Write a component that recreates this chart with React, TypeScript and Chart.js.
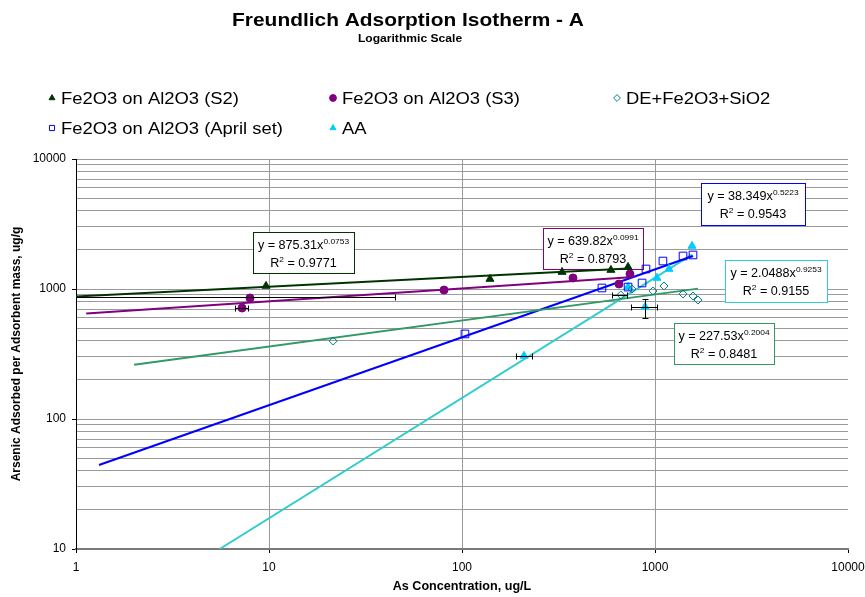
import React, { useEffect, useRef } from 'react';
import { Chart, registerables } from 'chart.js';

Chart.register(...registerables);

const FONT = 'Arial, "Liberation Sans", sans-serif';

// ---- text ----
const TITLE = 'Freundlich Adsorption Isotherm - A';
const SUBTITLE = 'Logarithmic Scale';
const X_TITLE = 'As Concentration, ug/L';
const Y_TITLE = 'Arsenic Adsorbed per Adsorbent mass, ug/g';
const SERIES_NAMES = [
  'Fe2O3 on Al2O3 (S2)',
  'Fe2O3 on Al2O3 (S3)',
  'DE+Fe2O3+SiO2',
  'Fe2O3 on Al2O3 (April set)',
  'AA',
];

// ---- axis ticks ----
const X_TICK_LABELS = [1, 10, 100, 1000, 10000];
const Y_TICK_LABELS = [10, 100, 1000, 10000];
const MINOR_STEPS = [1, 2, 3, 4, 5, 6, 7, 8, 9];

// ---- data ----
const S2_X = [9.65, 139.6, 330, 591, 725];
const S2_Y = [1055, 1194, 1351, 1400, 1476];

const S3_X = [7.25, 7.97, 80.7, 376, 651, 742];
const S3_Y = [714, 853, 982, 1216, 1092, 1304];

const DE_X = [21.5, 665, 760, 977, 1113, 1397, 1574, 1670];
const DE_Y = [398, 900, 1000, 966, 1055, 916, 884, 822];

const APRIL_X = [103.6, 531, 725, 857, 898, 1099, 1397, 1574];
const APRIL_Y = [451, 1018, 1035, 1112, 1425, 1641, 1794, 1827];

const AA_X = [209.5, 725, 888, 1024, 1182, 1555];
const AA_Y = [305.7, 1036, 728, 1216, 1425, 2143];

// ---- power-law trendlines (y = a * x^b), same order as SERIES_NAMES ----
const TREND_A = [875.31, 639.82, 227.53, 38.349, 2.0488];
const TREND_B = [0.0753, 0.0991, 0.2004, 0.5223, 0.9253];
const TREND_A_TEXT = ['875.31', '639.82', '227.53', '38.349', '2.0488'];
const TREND_B_TEXT = ['0.0753', '0.0991', '0.2004', '0.5223', '0.9253'];
const TREND_R2_TEXT = ['0.9771', '0.8793', '0.8481', '0.9543', '0.9155'];
const TREND_X_START = [1, 1.13, 2.0, 1.316, 5.55];
const TREND_X_END = [725, 742, 1670, 1574, 1555];

// ---- error bars ----
const ERR_X = [7.25, 209.5, 888, 665, 2.0];
const ERR_Y = [714, 305.7, 728, 900, 868];
const ERR_X_LO = [6.67, 190, 751, 599, 0.5];
const ERR_X_HI = [7.83, 230, 1024, 716, 45];
const ERR_Y_LO: (number | null)[] = [null, null, 598, null, null];
const ERR_Y_HI: (number | null)[] = [null, null, 837, null, null];

// ---- styles ----
const MARKER_COLOR = ['#003300', '#800080', '#008080', '#0000FF', '#00CCFF'];
const MARKER_FILL = ['#003300', '#800080', 'rgba(0,0,0,0)', 'rgba(0,0,0,0)', '#00CCFF'];
const MARKER_STYLE = ['triangle', 'circle', 'rectRot', 'rect', 'triangle'];
const MARKER_RADIUS = [4.6, 4, 4, 5.4, 4.6];
const TREND_COLOR = ['#003300', '#800080', '#339966', '#0000FF', '#33CCCC'];

// equation box rectangles (pixels: left, top, right, bottom)
const EQ_BOX = [
  [253, 232, 354, 273],
  [543, 228, 643, 269],
  [674, 323, 774, 364],
  [701, 183, 805, 225],
  [725, 260, 827, 302],
];

const LEGEND_POS = [
  [52, 98],
  [333, 98],
  [617, 98],
  [52, 128],
  [333, 128],
];

const isPow10 = (v: number) => Math.abs(Math.log10(v) - Math.round(Math.log10(v))) < 1e-9;

function gridValues(labels: number[]) {
  const out: number[] = [];
  for (let i = 0; i < labels.length - 1; i++) {
    for (const m of MINOR_STEPS) out.push(labels[i] * m);
  }
  out.push(labels[labels.length - 1]);
  return out;
}

function xy(xs: number[], ys: number[]) {
  return xs.map((x, i) => ({ x, y: ys[i] }));
}

function drawText(
  ctx: CanvasRenderingContext2D,
  text: string,
  x: number,
  y: number,
  font: string,
  align: CanvasTextAlign,
  sx: number,
) {
  ctx.save();
  ctx.font = font;
  ctx.textAlign = align;
  ctx.textBaseline = 'alphabetic';
  ctx.translate(x, y);
  ctx.scale(sx, 1);
  ctx.fillText(text, 0, 0);
  ctx.restore();
}

function textW(ctx: CanvasRenderingContext2D, text: string, font: string, sx: number) {
  ctx.save();
  ctx.font = font;
  const w = ctx.measureText(text).width * sx;
  ctx.restore();
  return w;
}

function drawMarker(ctx: CanvasRenderingContext2D, i: number, x: number, y: number, r: number) {
  ctx.save();
  ctx.beginPath();
  const style = MARKER_STYLE[i];
  if (style === 'triangle') {
    ctx.moveTo(x, y - r);
    ctx.lineTo(x + r * 0.866, y + r * 0.5);
    ctx.lineTo(x - r * 0.866, y + r * 0.5);
    ctx.closePath();
  } else if (style === 'circle') {
    ctx.arc(x, y, r, 0, Math.PI * 2);
  } else if (style === 'rectRot') {
    ctx.moveTo(x, y - r);
    ctx.lineTo(x + r, y);
    ctx.lineTo(x, y + r);
    ctx.lineTo(x - r, y);
    ctx.closePath();
  } else {
    ctx.rect(x - r * 0.75, y - r * 0.75, r * 1.5, r * 1.5);
  }
  ctx.fillStyle = MARKER_FILL[i];
  ctx.fill();
  ctx.strokeStyle = MARKER_COLOR[i];
  ctx.lineWidth = 1;
  ctx.stroke();
  ctx.restore();
}

const decorPlugin = {
  id: 'decor',
  beforeDatasetsDraw(chart: any) {
    const ctx: CanvasRenderingContext2D = chart.ctx;
    // equation boxes (drawn beneath the marks)
    const fMain = `12px ${FONT}`;
    const fSup = `8px ${FONT}`;
    const sx = 1.05;
    for (let i = 0; i < EQ_BOX.length; i++) {
      const [l, t, r, b] = EQ_BOX[i];
      ctx.save();
      ctx.fillStyle = '#fff';
      ctx.fillRect(l, t, r - l, b - t);
      ctx.strokeStyle = TREND_COLOR[i];
      ctx.lineWidth = 1;
      ctx.strokeRect(l + 0.5, t + 0.5, r - l, b - t);
      ctx.fillStyle = '#000';
      const cx = (l + r) / 2;
      const main1 = `y = ${TREND_A_TEXT[i]}x`;
      const sup1 = TREND_B_TEXT[i];
      const w1 = textW(ctx, main1, fMain, sx) + textW(ctx, sup1, fSup, sx);
      const sx1 = cx - w1 / 2;
      drawText(ctx, main1, sx1, t + 17, fMain, 'left', sx);
      drawText(ctx, sup1, sx1 + textW(ctx, main1, fMain, sx), t + 12, fSup, 'left', sx);
      const a2 = 'R';
      const s2 = '2';
      const b2 = ` = ${TREND_R2_TEXT[i]}`;
      const w2 = textW(ctx, a2, fMain, sx) + textW(ctx, s2, fSup, sx) + textW(ctx, b2, fMain, sx);
      let x2 = cx - w2 / 2;
      drawText(ctx, a2, x2, t + 35, fMain, 'left', sx);
      x2 += textW(ctx, a2, fMain, sx);
      drawText(ctx, s2, x2, t + 30, fSup, 'left', sx);
      x2 += textW(ctx, s2, fSup, sx);
      drawText(ctx, b2, x2, t + 35, fMain, 'left', sx);
      ctx.restore();
    }
  },
  afterDatasetsDraw(chart: any) {
    const ctx: CanvasRenderingContext2D = chart.ctx;
    const xs = chart.scales.x;
    const ys = chart.scales.y;
    const area = chart.chartArea;

    // error bars
    ctx.save();
    ctx.beginPath();
    ctx.rect(area.left, area.top, area.right - area.left, area.bottom - area.top);
    ctx.clip();
    ctx.strokeStyle = '#000';
    ctx.lineWidth = 1;
    const cap = 3;
    for (let i = 0; i < ERR_X.length; i++) {
      const py = Math.round(ys.getPixelForValue(ERR_Y[i])) + 0.5;
      const x1 = xs.getPixelForValue(ERR_X_LO[i]);
      const x2 = xs.getPixelForValue(ERR_X_HI[i]);
      ctx.beginPath();
      ctx.moveTo(x1, py);
      ctx.lineTo(x2, py);
      ctx.moveTo(Math.round(x1) + 0.5, py - cap);
      ctx.lineTo(Math.round(x1) + 0.5, py + cap);
      ctx.moveTo(Math.round(x2) + 0.5, py - cap);
      ctx.lineTo(Math.round(x2) + 0.5, py + cap);
      const ylo = ERR_Y_LO[i];
      const yhi = ERR_Y_HI[i];
      if (ylo != null && yhi != null) {
        const px = Math.round(xs.getPixelForValue(ERR_X[i])) + 0.5;
        const y1 = ys.getPixelForValue(ylo);
        const y2 = ys.getPixelForValue(yhi);
        ctx.moveTo(px, y1);
        ctx.lineTo(px, y2);
        ctx.moveTo(px - cap, Math.round(y1) + 0.5);
        ctx.lineTo(px + cap, Math.round(y1) + 0.5);
        ctx.moveTo(px - cap, Math.round(y2) + 0.5);
        ctx.lineTo(px + cap, Math.round(y2) + 0.5);
      }
      ctx.stroke();
    }
    ctx.restore();
  },
  afterDraw(chart: any) {
    const ctx: CanvasRenderingContext2D = chart.ctx;
    const area = chart.chartArea;
    ctx.save();
    ctx.fillStyle = '#000';
    // titles
    drawText(ctx, TITLE, 408, 26, `bold 19px ${FONT}`, 'center', 1.1);
    drawText(ctx, SUBTITLE, 410, 42, `bold 11px ${FONT}`, 'center', 1.1);

    // legend
    const fLeg = `16px ${FONT}`;
    for (let i = 0; i < SERIES_NAMES.length; i++) {
      const [mx, my] = LEGEND_POS[i];
      drawMarker(ctx, i, mx, my, 3.4);
      ctx.fillStyle = '#000';
      drawText(ctx, SERIES_NAMES[i], mx + 9, my + 6, fLeg, 'left', 1.15);
    }

    // axis titles
    drawText(ctx, X_TITLE, (area.left + area.right) / 2, 590, `bold 12px ${FONT}`, 'center', 1.05);
    ctx.save();
    ctx.translate(20, (area.top + area.bottom) / 2);
    ctx.rotate(-Math.PI / 2);
    ctx.font = `bold 12px ${FONT}`;
    ctx.textAlign = 'center';
    ctx.textBaseline = 'alphabetic';
    ctx.fillText(Y_TITLE, 0, 0);
    ctx.restore();
    ctx.restore();
  },
};

const X_GRID = gridValues(X_TICK_LABELS);
const Y_GRID = gridValues(Y_TICK_LABELS);

function buildDatasets() {
  const pts = [xy(S2_X, S2_Y), xy(S3_X, S3_Y), xy(DE_X, DE_Y), xy(APRIL_X, APRIL_Y), xy(AA_X, AA_Y)];
  const ds: any[] = [];
  pts.forEach((data, i) => {
    ds.push({
      label: SERIES_NAMES[i],
      data,
      showLine: false,
      pointStyle: MARKER_STYLE[i],
      pointRadius: MARKER_RADIUS[i],
      pointBackgroundColor: MARKER_FILL[i],
      pointBorderColor: MARKER_COLOR[i],
      pointBorderWidth: 1,
      order: 1,
    });
  });
  TREND_A.forEach((a, i) => {
    const b = TREND_B[i];
    const x0 = TREND_X_START[i];
    const x1 = TREND_X_END[i];
    ds.push({
      label: SERIES_NAMES[i] + ' trend',
      data: [
        { x: x0, y: a * Math.pow(x0, b) },
        { x: x1, y: a * Math.pow(x1, b) },
      ],
      showLine: true,
      pointRadius: 0,
      borderColor: TREND_COLOR[i],
      borderWidth: 2,
      fill: false,
      order: 2,
    });
  });
  return ds;
}

export default function App() {
  const ref = useRef<HTMLCanvasElement>(null);
  useEffect(() => {
    if (!ref.current) return;
    const chart = new Chart(ref.current, {
      type: 'scatter',
      data: { datasets: buildDatasets() },
      options: {
        responsive: false,
        animation: false,
        events: [],
        layout: { padding: { top: 159, right: 17, left: 0, bottom: 0 } },
        plugins: {
          legend: { display: false },
          title: { display: false },
          tooltip: { enabled: false },
        },
        scales: {
          x: {
            type: 'logarithmic',
            min: 1,
            max: 10000,
            afterFit: (s: any) => {
              s.height = 48;
              s.paddingLeft = 0;
              s.paddingRight = 0;
            },
            afterBuildTicks: (s: any) => {
              s.ticks = X_GRID.map((v) => ({ value: v }));
            },
            ticks: {
              autoSkip: false,
              maxRotation: 0,
              padding: 7,
              color: '#000',
              font: { family: FONT, size: 12 },
              callback: (v: any) => (isPow10(Number(v)) ? String(v) : ''),
            },
            grid: {
              tickLength: 4,
              color: (c: any) => {
                const v = c.tick?.value;
                return v && isPow10(v) && v > 1 && v < 10000 ? '#9a9a9a' : 'rgba(0,0,0,0)';
              },
              tickColor: (c: any) => (c.tick && isPow10(c.tick.value) ? '#000' : 'rgba(0,0,0,0)'),
              lineWidth: 1,
            },
            border: { color: '#7a7a7a', width: 2 },
          },
          y: {
            type: 'logarithmic',
            min: 10,
            max: 10000,
            afterFit: (s: any) => {
              s.width = 76;
              s.paddingTop = 0;
              s.paddingBottom = 0;
            },
            afterBuildTicks: (s: any) => {
              s.ticks = Y_GRID.map((v) => ({ value: v }));
            },
            ticks: {
              autoSkip: false,
              padding: 6,
              color: '#000',
              font: { family: FONT, size: 12 },
              callback: (v: any) => (isPow10(Number(v)) ? String(v) : ''),
            },
            grid: {
              tickLength: 4,
              color: '#9a9a9a',
              tickColor: (c: any) => (c.tick && isPow10(c.tick.value) ? '#000' : 'rgba(0,0,0,0)'),
              lineWidth: 1,
            },
            border: { color: '#000', width: 1 },
          },
        },
      },
      plugins: [decorPlugin],
    });
    return () => chart.destroy();
  }, []);
  return (
    <div style={{ position: 'absolute', left: 0, top: 0, width: 865, height: 597, background: '#fff' }}>
      <canvas ref={ref} width={865} height={597} style={{ display: 'block', width: 865, height: 597 }} />
    </div>
  );
}
